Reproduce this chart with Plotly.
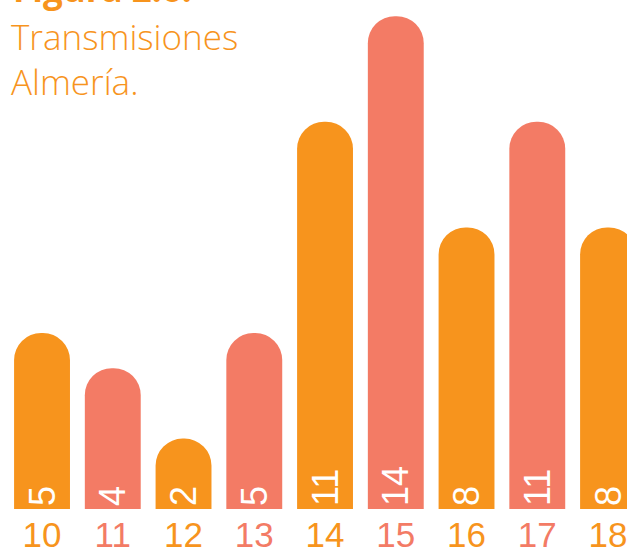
import plotly.graph_objects as go

categories = [10, 11, 12, 13, 14, 15, 16, 17, 18]
values = [5, 4, 2, 5, 11, 14, 8, 11, 8]
tick_labels = ["10", "11", "12", "13", "14", "15", "16", "17", "18"]

ORANGE = "#F7941D"
SALMON = "#F37B65"
colors = [ORANGE if i % 2 == 0 else SALMON for i in range(len(categories))]

ticktext = [f'<span style="color:{c}">{t}</span>' for t, c in zip(tick_labels, colors)]

fig = go.Figure(go.Bar(
    x=categories,
    y=values,
    width=0.79,
    marker=dict(color=colors, cornerradius="50%", line=dict(width=0)),
    text=[str(v) for v in values],
    textposition="inside",
    insidetextanchor="start",
    textangle=-90,
    constraintext="none",
    textfont=dict(family="Liberation Sans, Arial, sans-serif", size=36, color="white"),
    hoverinfo="skip",
))

fig.update_layout(
    width=627, height=549,
    margin=dict(l=0, r=0, t=0, b=40, autoexpand=False),
    paper_bgcolor="white", plot_bgcolor="white",
    showlegend=False,
    xaxis=dict(range=[9.406, 18.268], tickvals=categories, ticktext=ticktext,
               showgrid=False, zeroline=False, showline=False, ticks="",
               tickfont=dict(family="Liberation Sans, Arial, sans-serif", size=35),
               ticklabelstandoff=2, automargin=False, ticklabeloverflow="allow"),
    yaxis=dict(range=[0, 14.46], visible=False, showgrid=False, zeroline=False,
               automargin=False),
    annotations=[
        dict(text="<b>Figura 2.6.</b>", xref="paper", yref="paper", x=0.018, y=(509 - 14) / 509,
             xanchor="left", yanchor="bottom", showarrow=False,
             font=dict(family="Open Sans", size=35, color=ORANGE)),
        dict(text="Transmisiones", xref="paper", yref="paper", x=0.014, y=(509 - 62) / 509,
             xanchor="left", yanchor="bottom", showarrow=False,
             font=dict(family="Open Sans", size=35, color=ORANGE, weight=300)),
        dict(text="Almería.", xref="paper", yref="paper", x=0.014, y=(509 - 107) / 509,
             xanchor="left", yanchor="bottom", showarrow=False,
             font=dict(family="Open Sans", size=35, color=ORANGE, weight=300)),
    ],
)

fig.write_html("out.html", config={"displayModeBar": False},
               post_script="document.body.style.margin='0';document.body.style.overflow='hidden';")
